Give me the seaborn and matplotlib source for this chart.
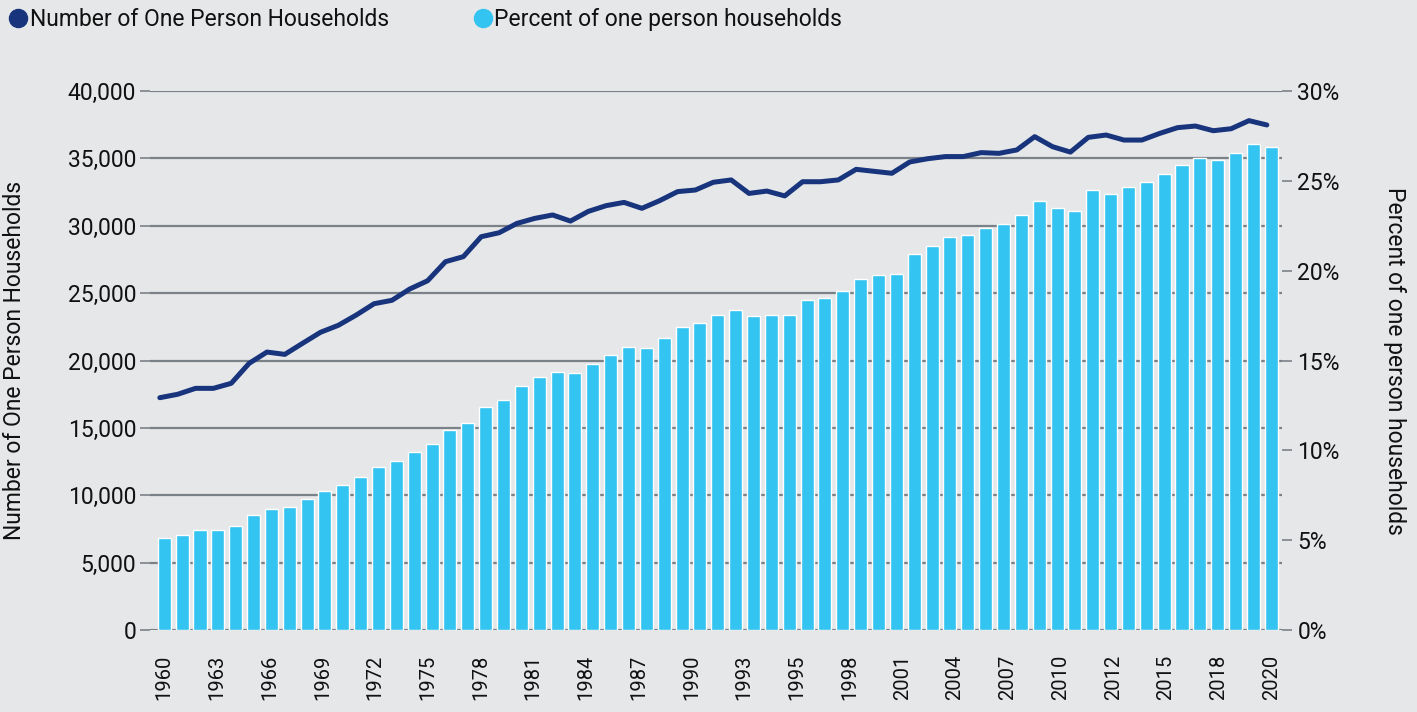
import numpy as np
import pandas as pd
import matplotlib
matplotlib.use("Agg")
import matplotlib.pyplot as plt
import seaborn as sns
from matplotlib.ticker import FuncFormatter
from matplotlib.lines import Line2D

# ---------------- data ----------------
TICK_LABELS = ["1960", "1963", "1966", "1969", "1972", "1975", "1978", "1981",
               "1984", "1987", "1990", "1993", "1995", "1998", "2001", "2004",
               "2007", "2010", "2012", "2015", "2018", "2020"]

BAR_VALUES = [6850, 7070, 7440, 7440, 7735, 8550, 9000, 9140, 9740, 10330,
              10780, 11365, 12105, 12555, 13220, 13820, 14855, 15380, 16555, 17080,
              18115, 18780, 19150, 19075, 19740, 20410, 21000, 20930, 21670, 22490,
              22790, 23380, 23750, 23300, 23380, 23380, 24490, 24640, 25160, 26050,
              26345, 26420, 27900, 28500, 29165, 29315, 29835, 30130, 30800, 31840,
              31320, 31095, 32650, 32360, 32875, 33250, 33840, 34510, 35030, 34880,
              35400, 36070, 35845]

LINE_PCT = [12.93, 13.12, 13.45, 13.45, 13.73, 14.84, 15.47, 15.34, 15.96, 16.57,
            16.96, 17.53, 18.16, 18.35, 18.98, 19.44, 20.50, 20.78, 21.89, 22.11,
            22.63, 22.91, 23.10, 22.76, 23.30, 23.62, 23.80, 23.47, 23.90, 24.40,
            24.49, 24.92, 25.05, 24.30, 24.43, 24.16, 24.95, 24.95, 25.05, 25.64,
            25.53, 25.42, 26.05, 26.23, 26.35, 26.35, 26.57, 26.53, 26.72, 27.46,
            26.90, 26.60, 27.42, 27.55, 27.27, 27.27, 27.64, 27.96, 28.05, 27.79,
            27.90, 28.35, 28.11]

SERIES_NAMES = ["Number of One Person Households", "Percent of one person households"]
LEFT_LABEL = "Number of One Person Households"
RIGHT_LABEL = "Percent of one person households"

# ---------------- style ----------------
BG = "#e6e7e9"
BAR_C = "#33c4f1"
LINE_C = "#17347c"
GRID_C = "#7a8187"
TEXT_C = "#111111"
LINE_SHIFT = -0.25

sns.set_theme(style="white")
plt.rcParams["font.family"] = ["Roboto", "DejaVu Sans"]

W, H = 1417, 712
fig = plt.figure(figsize=(W / 100, H / 100), dpi=100, facecolor=BG)
ax = fig.add_axes([150 / W, 1 - 630 / H, (1282 - 150) / W, (630 - 91) / H])
ax.set_facecolor(BG)

n = len(BAR_VALUES)
df = pd.DataFrame({"pos": np.arange(n), "value": BAR_VALUES})
sns.barplot(data=df, x="pos", y="value", native_scale=True, color=BAR_C,
            saturation=1, width=0.73, ax=ax, zorder=2)

ax.set_ylim(0, 40000)
ax.set_xlim(-0.8, n - 1 + 0.6)
ax.set_yticks(np.arange(0, 40001, 5000))
ax.yaxis.set_major_formatter(FuncFormatter(lambda v, p: f"{int(v):,}"))
ax.set_axisbelow(True)
ax.grid(axis="y", color=GRID_C, lw=1.6)
ax.grid(axis="x", visible=False)
for s in ax.spines.values():
    s.set_visible(False)

ax.set_xticks(np.linspace(0, n - 1, len(TICK_LABELS)))
ax.set_xticklabels(TICK_LABELS, rotation=90, fontsize=14.5, color=TEXT_C)
ax.tick_params(axis="x", length=0, pad=18)
ax.tick_params(axis="y", length=7, width=1.2, color=GRID_C, pad=3,
               labelsize=16.5, labelcolor=TEXT_C)
ax.set_xlabel("")
ax.set_ylabel(LEFT_LABEL, fontsize=16.5, color=TEXT_C, labelpad=30)

ax2 = ax.twinx()
sns.lineplot(x=np.arange(n) + LINE_SHIFT, y=LINE_PCT, ax=ax2, color=LINE_C,
             lw=3.6, solid_capstyle="round", zorder=3)
ax2.set_ylim(0, 30)
ax2.set_yticks(np.arange(0, 31, 5))
ax2.yaxis.set_major_formatter(FuncFormatter(lambda v, p: f"{int(v)}%"))
ax2.tick_params(axis="y", length=7, width=1.2, color=GRID_C, pad=4,
                labelsize=16.5, labelcolor=TEXT_C)
ax2.grid(False)
for s in ax2.spines.values():
    s.set_visible(False)
ax2.set_ylabel(RIGHT_LABEL, fontsize=16.5, color=TEXT_C, rotation=270, labelpad=48)

handles = [Line2D([], [], marker="o", ls="", color=LINE_C, markersize=13),
           Line2D([], [], marker="o", ls="", color=BAR_C, markersize=13)]
fig.legend(handles, SERIES_NAMES, loc="upper left", bbox_to_anchor=(-0.005, 1.008),
           ncol=2, frameon=False, fontsize=16.5, handletextpad=0.0,
           columnspacing=3.6, borderaxespad=0.2, handlelength=1.0,
           labelcolor=TEXT_C)

fig.savefig("out.png", dpi=100, facecolor=BG)
